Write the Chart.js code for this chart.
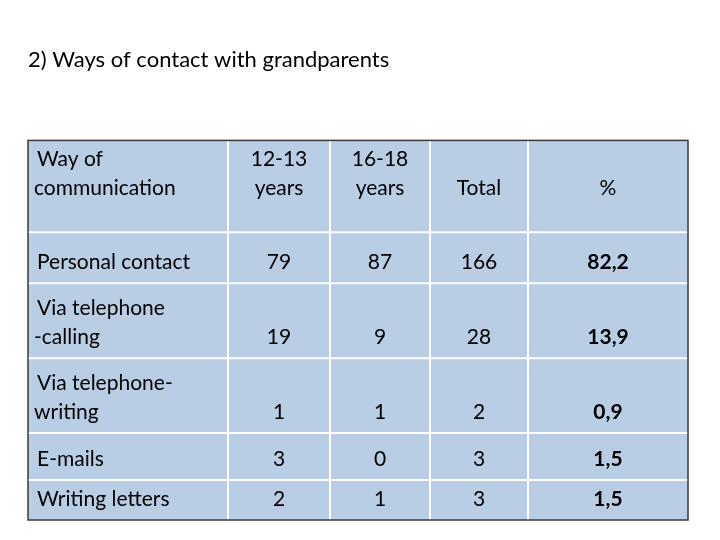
<!DOCTYPE html>
<html><head><meta charset="utf-8">
<script src="https://cdn.jsdelivr.net/npm/chart.js@4"></script>
<style>body{margin:0;background:#fff}</style></head>
<body><canvas id="c" width="720" height="540"></canvas>
<script>
const title = "2) Ways of contact with grandparents";
const headers = [["Way of","communication"],["12-13","years"],["16-18","years"],["Total"],["%"]];
const rows = [["Personal contact"],["Via telephone","-calling"],["Via telephone-","writing"],["E-mails"],["Writing letters"]];
const age1213 = ["79","19","1","3","2"];
const age1618 = ["87","9","1","0","1"];
const totals = ["166","28","2","3","3"];
const percent = ["82,2","13,9","0,9","1,5","1,5"];
// layout (scale units)
const colEdges = [0,200,302,402,500,660];
const rowEdges = [0,92,143,218,293,340,380];
const F = "Lato, 'Open Sans', sans-serif";
const tablePlugin = {
  id:'table',
  beforeDatasetsDraw(ch){
    const c=ch.ctx, xs=ch.scales.x, ys=ch.scales.y;
    const X=v=>xs.getPixelForValue(v), Y=v=>ys.getPixelForValue(v);
    c.save();
    c.fillStyle="#B9CDE5";
    c.fillRect(X(0),Y(0),X(660)-X(0),Y(380)-Y(0));
    c.strokeStyle="#fff"; c.lineWidth=2;
    colEdges.slice(1,-1).forEach(e=>{c.beginPath();c.moveTo(X(e),Y(0));c.lineTo(X(e),Y(380));c.stroke();});
    rowEdges.slice(1,-1).forEach(e=>{c.beginPath();c.moveTo(X(0),Y(e));c.lineTo(X(660),Y(e));c.stroke();});
    c.strokeStyle="#3a3a3a"; c.lineWidth=1.5;
    c.strokeRect(X(0),Y(0),X(660)-X(0),Y(380)-Y(0));
    c.fillStyle="#000"; c.textBaseline="alphabetic";
    const cellText=(lines,col,row,bold)=>{
      c.font=(bold?"bold ":"")+"21px "+F;
      const bottom=Y(rowEdges[row+1])-(row===0?37:14);
      let x; if(col===0){c.textAlign="left";x=X(0)+9;} else {c.textAlign="center";x=(X(colEdges[col])+X(colEdges[col+1]))/2;}
      lines.forEach((l,i)=>{const xx=(col===0&&i>0)?X(0)+6:x;c.fillText(l,xx,bottom-(lines.length-1-i)*29);});
    };
    headers.forEach((h,i)=>cellText(h,i,0,false));
    rows.forEach((r,i)=>{
      cellText(r,0,i+1,false);
      cellText([age1213[i]],1,i+1,false);
      cellText([age1618[i]],2,i+1,false);
      cellText([totals[i]],3,i+1,false);
      cellText([percent[i]],4,i+1,true);
    });
    c.restore();
  }
};
new Chart(document.getElementById('c'),{
  type:'scatter',
  data:{datasets:[{data:[],showLine:false}]},
  options:{responsive:false,animation:false,
    layout:{padding:{left:28,top:10,right:32,bottom:20}},
    plugins:{legend:{display:false},tooltip:{enabled:false},
      title:{display:true,text:title,align:'start',color:'#000',font:{family:F,size:22,weight:'normal'},padding:{top:37,bottom:67}}},
    scales:{x:{type:'linear',min:0,max:660,display:false},y:{type:'linear',min:0,max:380,reverse:true,display:false}}
  },
  plugins:[tablePlugin]
});
</script></body></html>
